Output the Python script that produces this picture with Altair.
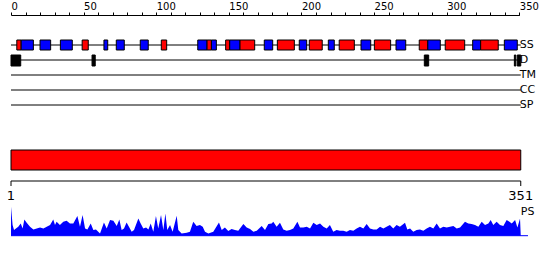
import altair as alt
import pandas as pd

# ---------------- data ----------------
SEQ_LEN = 351

# secondary structure elements (H = helix, red; E = strand, blue)
ss_start = [4, 7, 20, 34, 49, 64, 72.5, 89, 103.5, 128.6, 135, 138, 147.8, 150.6, 157.7, 174.4, 183.4,
            198.5, 205.4, 218.5, 226, 241, 250.2, 265.1, 281.1, 287, 299, 317.9, 323.4, 339.7]
ss_end = [7, 15.4, 27.3, 42.2, 53.2, 66.6, 78, 94.5, 107.2, 135, 138, 141.4, 150.6, 157.7, 167.8, 180.2, 195.1,
          203.6, 214.3, 222.6, 236.4, 247.7, 261.4, 271.8, 287, 295.6, 312.4, 323.4, 335.5, 348.6]
ss_type = ["H", "E", "E", "E", "H", "E", "E", "E", "H", "E", "H", "E", "H", "E", "H", "E", "H",
           "E", "H", "E", "H", "E", "H", "E", "H", "E", "H", "E", "H", "E"]

# disorder segments
dis_start = [0, 55.8, 284.6, 346.6, 348.6]
dis_end = [6.7, 58, 287.6, 347.6, 351]

tracks = ["SS", "D", "TM", "CC", "SP"]

axis_values = list(range(0, 351, 10))
ruler_pos = [0, SEQ_LEN]
ruler_labels = ["1", "351"]

# PS profile (residue, score)
ps_pos = [0, 1.1, 2.1, 3.4, 5.0, 6.7, 8.0, 9.2, 10.8, 13.1, 15.4, 17.7, 20.0, 22.3, 24.6, 26.9, 29.1,
          30.3, 31.4, 33.7, 36.0, 38.3, 40.6, 42.9, 45.7, 47.5, 49.3, 51.0, 52.6, 54.9, 56.7, 58.5,
          61.3, 64.0, 65.9, 68.2, 70.5, 72.8, 74.6, 76.2, 77.8, 79.6, 81.5, 83.1, 84.7, 87.7, 89.3,
          91.1, 93.0, 94.6, 96.2, 98.0, 99.8, 101.4, 103.3, 104.9, 106.3, 107.6, 109.5, 111.3, 114.1,
          115.2, 117.5, 121.0, 123.2, 125.5, 127.8, 130.1, 132.0, 133.6, 135.9, 139.3, 143.2, 145.1,
          147.3, 149.6, 151.9, 154.2, 156.5, 160.0, 162.3, 164.6, 166.9, 169.2, 172.6, 174.9, 177.2,
          179.5, 180.6, 182.9, 185.2, 187.5, 189.8, 192.1, 194.4, 197.2, 199.0, 201.3, 203.6, 205.9,
          208.2, 210.5, 212.8, 215.1, 217.4, 219.6, 221.9, 224.2, 226.5, 228.8, 231.1, 233.4, 235.7,
          238.0, 240.3, 242.6, 244.9, 247.2, 249.5, 251.8, 254.1, 256.4, 258.6, 260.9, 263.2, 265.5,
          267.8, 271.3, 272.9, 274.8, 277.0, 279.3, 281.6, 283.9, 286.2, 288.5, 290.8, 293.1, 295.4,
          297.7, 300.0, 302.3, 304.6, 306.9, 309.2, 312.6, 314.9, 317.2, 319.5, 321.8, 324.1, 326.4,
          328.7, 330.3, 332.1, 334.4, 336.7, 339.0, 341.3, 343.2, 344.8, 347.1, 348.7, 350.5, 351.0]
ps_val = [29, 10.7, 5.7, 7.3, 9, 12.3, 7.3, 16.3, 13, 9, 6.3, 7.3, 8.3, 7.3, 9, 10.7, 16.3,
          10.7, 14, 10.7, 14, 15, 12.3, 12.3, 19.7, 9, 20.7, 7.3, 6.3, 12.3, 5.7, 6.3,
          2.3, 13.3, 7.3, 15.7, 15, 9.7, 16.3, 5.7, 7.3, 13.3, 8.3, 4, 5.7, 17.3, 12.3,
          7.3, 8.3, 6.3, 12.3, 4, 19.7, 7.3, 20.7, 5.7, 22.3, 5.7, 10.7, 4, 20,
          5.7, 2.3, 3, 4, 14, 9.7, 10.7, 9, 4, 2.3, 4, 13.3, 5.7,
          8.3, 4.7, 6.7, 5.7, 5, 11.7, 8.3, 6.7, 4, 5, 9.7, 5.7, 11.7,
          12.3, 14, 9, 13, 6.3, 5, 5.7, 7.3, 14, 8.3, 8.3, 9, 7.3,
          13, 10.7, 12.3, 9, 7.3, 10.7, 4, 5.7, 5, 5, 4, 5.7, 5,
          7.3, 9, 7.3, 11.7, 7.3, 6.3, 6.3, 9, 7.3, 9, 10.7, 7.3, 10.7,
          9, 13, 6.3, 7.3, 4, 5.7, 6.3, 5, 7.3, 9, 7.3, 12.3, 7.3,
          9, 8.3, 9, 9.7, 7.3, 8.3, 14, 12.3, 11.7, 10.7, 9, 14, 10.7,
          12.3, 15.7, 10.7, 14, 10.7, 9.7, 15.7, 14, 12.3, 15.7, 8.3, 17.3, 0]

# ---------------- layout constants ----------------
TOP_PAD = 15
TRACK_TOP = 30          # y of the SS track line (plot coords)
TRACK_GAP = 15
BOX_HALF_SS = 5
D_TOP, D_BOT = 40, 51
BAR_TOP, BAR_BOT = 135, 155
RULER_Y = 166
RULER_TICK = 5
RULER_LABEL_Y = 185
PS_LABEL_Y = 200
PS_BASE, PS_TOPY = 220.7, 190.7
PS_LINE_END = 356
FONT = "DejaVu Sans"

xscale = alt.Scale(domain=[0, 350], range=[11, 519.3], nice=False, zero=False)
xaxis = alt.Axis(orient="top", values=axis_values,
                 labelExpr="datum.value % 50 == 0 ? datum.label : ''",
                 tickSize=3, labelAlign="left", labelFontSize=10, labelFont=FONT,
                 labelColor="black", domainColor="black", tickColor="black",
                 labelPadding=1, labelOverlap=False, labelFlush=False, labelBound=False,
                 grid=False, title=None, domainWidth=1, tickWidth=1)


def X(field):
    return alt.X(f"{field}:Q", scale=xscale, axis=xaxis)


layers = []

# track lines + labels
track_df = pd.DataFrame({"track": tracks, "start": 0, "end": SEQ_LEN})
for i, name in enumerate(tracks):
    ypos = TRACK_TOP + i * TRACK_GAP
    sub = track_df[track_df["track"] == name]
    layers.append(alt.Chart(sub).mark_rule(color="black", strokeWidth=1).encode(
        x=X("start"), x2="end:Q", y=alt.value(ypos)))
    layers.append(alt.Chart(sub).mark_text(align="left", baseline="middle", font=FONT,
                                           fontSize=11, color="black", dx=-1).encode(
        x=X("end"), y=alt.value(ypos), text="track:N"))

# SS boxes
ss_df = pd.DataFrame({"start": ss_start, "end": ss_end, "type": ss_type})
layers.append(alt.Chart(ss_df).mark_rect(stroke="black", strokeWidth=1).encode(
    x=X("start"), x2="end:Q",
    y=alt.value(TRACK_TOP - BOX_HALF_SS), y2=alt.value(TRACK_TOP + BOX_HALF_SS),
    color=alt.Color("type:N", scale=alt.Scale(domain=["H", "E"], range=["#ff0000", "#0000ff"]),
                    legend=None)))

# disorder boxes
d_df = pd.DataFrame({"start": dis_start, "end": dis_end})
layers.append(alt.Chart(d_df).mark_rect(color="black", stroke="black", strokeWidth=1).encode(
    x=X("start"), x2="end:Q", y=alt.value(D_TOP), y2=alt.value(D_BOT)))

# red sequence bar
bar_df = pd.DataFrame({"start": [0], "end": [SEQ_LEN]})
layers.append(alt.Chart(bar_df).mark_rect(color="#ff0000", stroke="black", strokeWidth=1).encode(
    x=X("start"), x2="end:Q", y=alt.value(BAR_TOP), y2=alt.value(BAR_BOT)))

# ruler
layers.append(alt.Chart(bar_df).mark_rule(color="black").encode(
    x=X("start"), x2="end:Q", y=alt.value(RULER_Y)))
ruler_df = pd.DataFrame({"pos": ruler_pos, "label": ruler_labels})
layers.append(alt.Chart(ruler_df).mark_rule(color="black").encode(
    x=X("pos"), y=alt.value(RULER_Y), y2=alt.value(RULER_Y + RULER_TICK)))
layers.append(alt.Chart(ruler_df).mark_text(align="center", baseline="alphabetic", font=FONT,
                                            fontSize=13, color="black").encode(
    x=X("pos"), y=alt.value(RULER_LABEL_Y), text="label:N"))

# PS label
ps_lab = pd.DataFrame({"pos": [SEQ_LEN], "label": ["PS"]})
layers.append(alt.Chart(ps_lab).mark_text(align="left", baseline="alphabetic", font=FONT,
                                          fontSize=11, color="black").encode(
    x=X("pos"), y=alt.value(PS_LABEL_Y), text="label:N"))

# PS area
ps_df = pd.DataFrame({"pos": ps_pos, "score": ps_val})
layers.append(alt.Chart(ps_df).mark_area(color="#0000ff", interpolate="linear", opacity=1).encode(
    x=X("pos"),
    y=alt.Y("score:Q", scale=alt.Scale(domain=[0, 30], range=[PS_BASE, PS_TOPY], nice=False),
            axis=None)))
base_df = pd.DataFrame({"start": [0], "end": [PS_LINE_END]})
layers.append(alt.Chart(base_df).mark_rule(color="#0000ff").encode(
    x=X("start"), x2="end:Q", y=alt.value(PS_BASE)))

chart = alt.layer(*layers).properties(
    width=550, height=245,
    autosize=alt.AutoSizeParams(type="none"),
    padding={"left": 0, "top": TOP_PAD, "right": 0, "bottom": 0},
    background="white",
).configure_view(stroke=None)

chart.save("out.html", embed_options={"renderer": "svg", "actions": False})
